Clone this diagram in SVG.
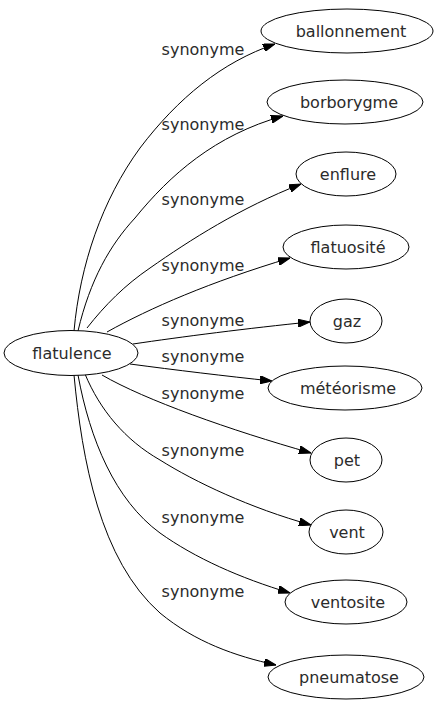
<svg xmlns="http://www.w3.org/2000/svg" width="436" height="707" viewBox="0 0 436 707">
<defs>
<style>
.n ellipse{fill:#fff;stroke:#000;stroke-width:1}
.n text{font-family:"DejaVu Sans",Verdana,sans-serif;font-size:16px;fill:#2b2b2b;text-anchor:middle}
.e path{fill:none;stroke:#000;stroke-width:1}
.lbl{font-family:"DejaVu Sans",Verdana,sans-serif;font-size:16px;fill:#2b2b2b;text-anchor:middle}
</style>
<marker id="ah" markerUnits="userSpaceOnUse" markerWidth="12" markerHeight="8" refX="12" refY="4" orient="auto" viewBox="0 0 12 8">
<path d="M0,0 L12,4 L0,8 z" fill="#000" stroke="#000" stroke-width="1"/>
</marker>
</defs>
<rect width="436" height="707" fill="#fff"/>
<g id="connectors" class="e">
<path marker-end="url(#ah)" d="M74,331 C80,265 102,200 140,148 C178,98 222,62 275,44"/>
<path marker-end="url(#ah)" d="M78,331 C90,280 110,245 135,218 C170,175 215,135 283,116"/>
<path marker-end="url(#ah)" d="M87,328 C105,305 125,285 150,268 C190,240 240,208 301,184"/>
<path marker-end="url(#ah)" d="M107,332 C150,308 210,282 290,258"/>
<path marker-end="url(#ah)" d="M133,344 C180,337 250,328 310,322"/>
<path marker-end="url(#ah)" d="M130,364 C175,370 225,376 272,381"/>
<path marker-end="url(#ah)" d="M102,375 C145,400 230,430 311,453"/>
<path marker-end="url(#ah)" d="M85,374 C100,410 125,440 160,460 C195,482 250,508 311,525"/>
<path marker-end="url(#ah)" d="M78,375 C90,440 115,500 160,533 C195,558 240,578 290,593"/>
<path marker-end="url(#ah)" d="M74,375 C82,460 100,560 160,613 C195,642 235,656 276,665"/>
<text class="lbl" x="203" y="55">synonyme</text>
<text class="lbl" x="203" y="130">synonyme</text>
<text class="lbl" x="203" y="205">synonyme</text>
<text class="lbl" x="203" y="271">synonyme</text>
<text class="lbl" x="203" y="326">synonyme</text>
<text class="lbl" x="203" y="362">synonyme</text>
<text class="lbl" x="203" y="399">synonyme</text>
<text class="lbl" x="203" y="456">synonyme</text>
<text class="lbl" x="203" y="523">synonyme</text>
<text class="lbl" x="203" y="597">synonyme</text>
</g>
<g id="flatulence" class="n"><ellipse cx="71" cy="353" rx="67" ry="22.5"/><text x="72" y="358.5">flatulence</text></g>
<g id="ballonnement" class="n"><ellipse cx="347" cy="31" rx="86" ry="22"/><text x="351" y="36.5">ballonnement</text></g>
<g id="borborygme" class="n"><ellipse cx="345" cy="102" rx="78" ry="22"/><text x="349" y="107.5">borborygme</text></g>
<g id="enflure" class="n"><ellipse cx="346" cy="174" rx="50" ry="22"/><text x="348" y="179.5">enflure</text></g>
<g id="flatuosite" class="n"><ellipse cx="346" cy="247" rx="63" ry="22"/><text x="348" y="252.5">flatuosité</text></g>
<g id="gaz" class="n"><ellipse cx="346" cy="321" rx="36" ry="22"/><text x="347" y="326.5">gaz</text></g>
<g id="meteorisme" class="n"><ellipse cx="345" cy="388" rx="77" ry="22"/><text x="348" y="393.5">météorisme</text></g>
<g id="pet" class="n"><ellipse cx="346" cy="460" rx="36" ry="22"/><text x="347" y="465.5">pet</text></g>
<g id="vent" class="n"><ellipse cx="346" cy="532" rx="37" ry="22"/><text x="347" y="537.5">vent</text></g>
<g id="ventosite" class="n"><ellipse cx="346" cy="602" rx="61" ry="22"/><text x="348" y="607.5">ventosite</text></g>
<g id="pneumatose" class="n"><ellipse cx="346" cy="677" rx="78" ry="22"/><text x="349" y="682.5">pneumatose</text></g>
</svg>
